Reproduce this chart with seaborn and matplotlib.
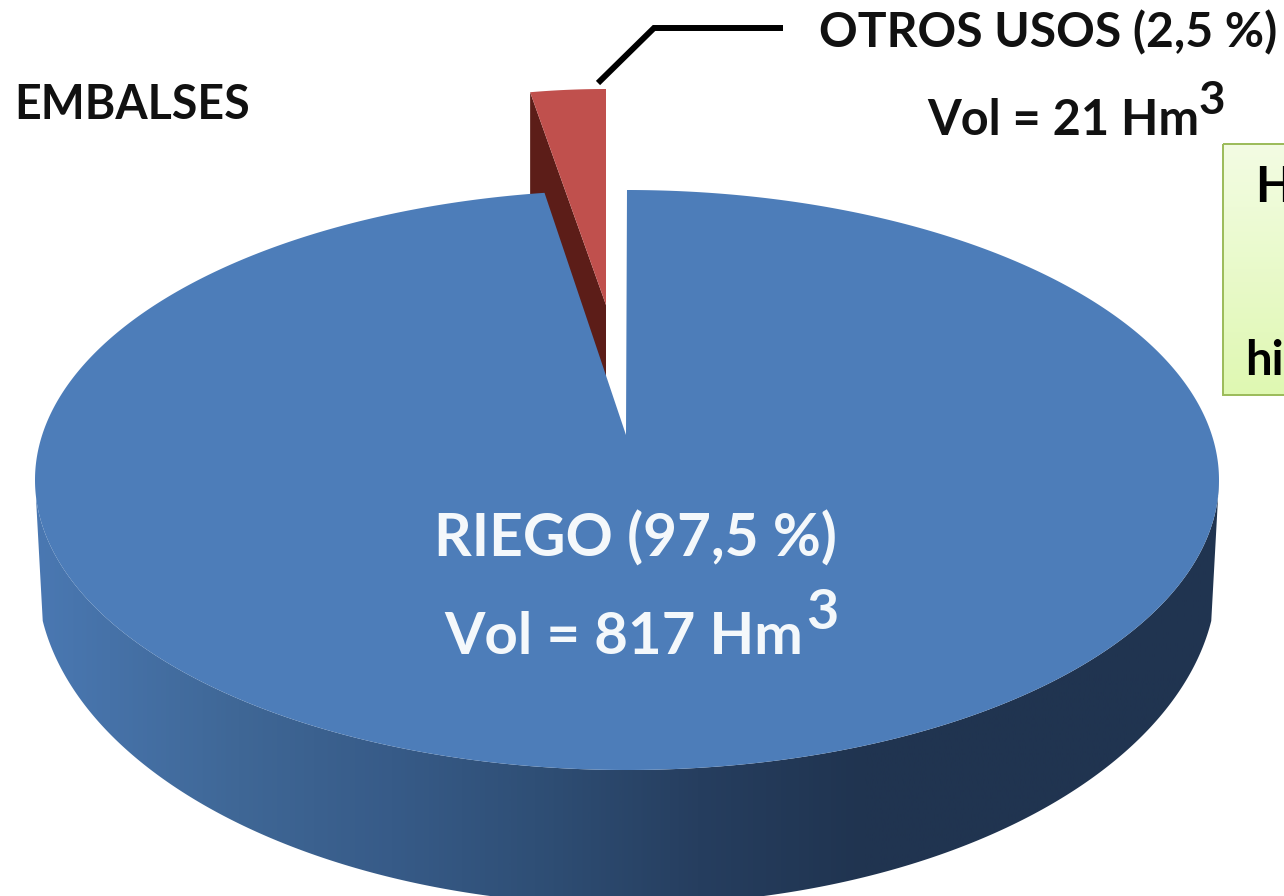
import numpy as np
import matplotlib
matplotlib.use("Agg")
import matplotlib.pyplot as plt
from matplotlib.patches import Polygon, Rectangle
from matplotlib.colors import LinearSegmentedColormap
import seaborn as sns

# --- data ---
categories = ["RIEGO", "OTROS USOS"]
percent = [97.5, 2.5]
volume_hm3 = [817, 21]
chart_label = "EMBALSES"
note_fragments = ["H", "hi"]

# --- style ---
TOP_BLUE = "#4d7db9"
RED = "#c0504d"
RED_DARK = "#5c1d18"
side_stops = [(0.0, "#4a78b2"), (0.17, "#3f6796"), (0.30, "#375b88"),
              (0.42, "#2f4f76"), (0.56, "#263e5f"), (0.70, "#203450"), (1.0, "#203450")]
box_colors = ["#f3fce3", "#dff8b2"]
FONT = "Lato"

sns.set_theme(style="white")
plt.rcParams["font.family"] = [FONT, "DejaVu Sans"]

fig = plt.figure(figsize=(12.84, 8.96), dpi=100, facecolor="white")
ax = fig.add_axes([0, 0, 1, 1])
ax.set_xlim(0, 1284)
ax.set_ylim(896, 0)
ax.axis("off")

# projection of the disc (perspective: the apex sits above the ellipse centre)
CX, CY, RX, RY = 627, 480, 592, 290
APEX = (626, 435)
LOW_CX, LOW_CY, LOW_RX, LOW_RY = 627, 575, 590, 330
FORESHORTEN = 0.89  # the far rim of the gap looks narrower


def arc(cx, cy, rx, ry, a0, a1, n=400):
    t = np.radians(np.linspace(a0, a1, n))
    return np.column_stack([cx + rx * np.cos(t), cy - ry * np.sin(t)])


sweep_other = 360 * percent[1] / 100
start = 90  # slices begin at twelve o'clock

# extruded side with a left-to-right shading
side_cmap = LinearSegmentedColormap.from_list("side", side_stops)
side = np.vstack([
    arc(CX, CY, RX, RY, 180, 360),
    arc(LOW_CX, LOW_CY, LOW_RX, LOW_RY, 352, 188),
])
side_patch = Polygon(side, closed=True, fc="none", ec="none")
ax.add_patch(side_patch)
grad = ax.imshow(np.linspace(0, 1, 512)[None, :], cmap=side_cmap, aspect="auto",
                 extent=(36, 1220, 960, 400), zorder=1)
grad.set_clip_path(side_patch)
ax.set_xlim(0, 1284)
ax.set_ylim(896, 0)

# exploded small slice: face and dark inner wall
W_APEX = (606, 305)
W_RX, W_RY = 485, 262
W_CX, W_CY = W_APEX[0], 351
w_arc = arc(W_CX, W_CY, W_RX, W_RY, start, start + sweep_other, 30)
W_DEPTH = 105
ax.add_patch(Polygon([w_arc[-1], (w_arc[-1][0], w_arc[-1][1] + W_DEPTH),
                      (W_APEX[0], W_APEX[1] + 80), W_APEX],
                     closed=True, fc=RED_DARK, ec="none", zorder=2))
ax.add_patch(Polygon(np.vstack([w_arc, W_APEX]), closed=True, fc=RED, ec="none", zorder=3))

# main slice, top face
main_arc = arc(CX, CY, RX, RY, start, start - 360 + sweep_other * FORESHORTEN, 800)
ax.add_patch(Polygon(np.vstack([main_arc, APEX]), closed=True, fc=TOP_BLUE, ec="none", zorder=4))

# leader line
ax.plot([598, 654, 783], [83, 28, 28], color="black", lw=4.3,
        solid_joinstyle="miter", solid_capstyle="butt", zorder=5)

# note box, running off the right edge
box_cmap = LinearSegmentedColormap.from_list("box", box_colors)
box_patch = Rectangle((1223, 144), 80, 251, fc="none", ec="#9bbb59", lw=1.4, zorder=6)
ax.add_patch(box_patch)
bg = ax.imshow(np.linspace(0, 1, 256)[:, None], cmap=box_cmap, aspect="auto",
               extent=(1223, 1303, 395, 144), zorder=5.5)
ax.set_xlim(0, 1284)
ax.set_ylim(896, 0)
ax.text(1255, 202, note_fragments[0], color="black", fontsize=35, fontweight="bold",
        ha="left", va="baseline", zorder=7)
ax.text(1245, 375, note_fragments[1], color="black", fontsize=34, fontweight="bold",
        ha="left", va="baseline", zorder=7)


def fmt(p):
    return f"{p:.1f}".replace(".", ",")


# labels
DARK = "#111111"
LIGHT = "#f4f8fb"
ax.text(14, 119, chart_label, color=DARK, fontsize=33.5, fontweight="bold",
        ha="left", va="baseline", zorder=7)

ax.text(819, 47, f"{categories[1]} ({fmt(percent[1])} %)", color=DARK, fontsize=34.6,
        fontweight="bold", ha="left", va="baseline", zorder=7)
ax.text(927, 135, f"Vol = {volume_hm3[1]} Hm", color=DARK, fontsize=35,
        fontweight="bold", ha="left", va="baseline", zorder=7)
ax.text(1199, 114, "3", color=DARK, fontsize=33, fontweight="bold",
        ha="left", va="baseline", zorder=7)

ax.text(434, 557, f"{categories[0]} ({fmt(percent[0])} %)", color=LIGHT, fontsize=42.2,
        fontweight="bold", ha="left", va="baseline", zorder=7)
ax.text(444, 654, f"Vol = {volume_hm3[0]} Hm", color=LIGHT, fontsize=41.9,
        fontweight="bold", ha="left", va="baseline", zorder=7)
ax.text(806, 629, "3", color=LIGHT, fontsize=40, fontweight="bold",
        ha="left", va="baseline", zorder=7)

fig.savefig("out.png", dpi=100, facecolor="white")
